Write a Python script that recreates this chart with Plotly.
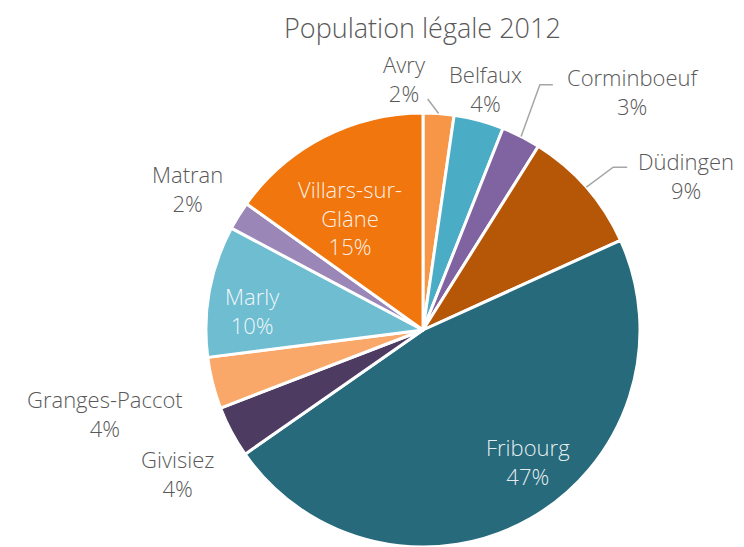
import math
import plotly.graph_objects as go

# ---- data ----
communes = ["Avry", "Belfaux", "Corminboeuf", "Düdingen", "Fribourg",
            "Givisiez", "Granges-Paccot", "Marly", "Matran", "Villars-sur-Glâne"]
population = [1850, 3000, 2350, 7500, 38000, 3100, 3100, 7900, 1700, 12200]
title_text = "Population légale 2012"

# ---- styles ----
colors = ["#F79646", "#4BACC6", "#8064A2", "#B65708", "#276A7C",
          "#4D3B62", "#F9A86A", "#6FBDD1", "#9B86B8", "#F1760E"]
label_text = {"Villars-sur-Glâne": "Villars-sur-<br>Glâne"}
inside = {"Fribourg", "Marly", "Villars-sur-Glâne"}
# label placement: (radius factor, angle nudge in degrees)
label_place = {
    "Avry": (1.16, -8.3), "Belfaux": (1.151, -0.5), "Corminboeuf": (1.463, 14.5),
    "Düdingen": (1.407, 10.7), "Fribourg": (0.774, -9.0), "Givisiez": (1.31, -2.4),
    "Granges-Paccot": (1.516, -0.6), "Marly": (0.793, -3.7), "Matran": (1.265, -0.7),
    "Villars-sur-Glâne": (0.62, -5.7),
}
# leader lines: label-relative elbow / end offsets in px
leaders = {
    "Avry": [(23, 20)],
    "Corminboeuf": [(-93, -7), (-80, -7)],
    "Düdingen": [(-73, -8), (-59, -8)],
}

W, H = 744, 547
OFF = 8  # page body margin
CX, CY, R = 423 - OFF, 330 - OFF, 217
FONT = "Open Sans"
GRAY = "#595959"

def px(x):
    return x / W

def py(y):
    return 1 - y / H

total = sum(population)
fig = go.Figure(go.Pie(
    labels=communes, values=population, sort=False, direction="clockwise",
    rotation=0, marker=dict(colors=colors, line=dict(color="white", width=3)),
    textinfo="none", hoverinfo="label+percent+value", showlegend=False,
    domain=dict(x=[(CX - R) / W, (CX + R) / W], y=[py(CY + R), py(CY - R)]),
))

annotations = []
shapes = []
cum = 0.0
for name, val in zip(communes, population):
    frac = val / total
    mid = (cum + frac / 2) * 360
    cum += frac
    rf, nudge = label_place[name]
    a = math.radians(mid + nudge)
    lx = CX + rf * R * math.sin(a)
    ly = CY - rf * R * math.cos(a)
    pct = round(frac * 100)
    txt = f"{label_text.get(name, name)}<br>{pct}%"
    col = "rgba(255,255,255,0.9)" if name in inside else GRAY
    annotations.append(dict(
        x=px(lx), y=py(ly), xref="paper", yref="paper", text=txt,
        showarrow=False, xanchor="center", yanchor="middle", borderpad=0,
        font=dict(family=FONT, size=22, color=col, weight=300),
    ))
    if name in leaders:
        am = math.radians(mid)
        pts = [(CX + R * math.sin(am), CY - R * math.cos(am))]
        for ox, oy in leaders[name]:
            pts.append((lx + ox, ly + oy))
        path = "M " + " L ".join(f"{px(x):.5f},{py(y):.5f}" for x, y in pts)
        shapes.append(dict(type="path", xref="paper", yref="paper", path=path,
                           line=dict(color="#A6A6A6", width=1.5)))

annotations.append(dict(
    x=px(423 - OFF), y=1, xref="paper", yref="paper", text=title_text,
    showarrow=False, xanchor="center", yanchor="top", borderpad=0,
    font=dict(family=FONT, size=27, color=GRAY, weight=300),
))

fig.update_layout(
    width=W, height=H, margin=dict(l=0, r=0, t=0, b=0),
    paper_bgcolor="white", plot_bgcolor="white",
    annotations=annotations, shapes=shapes,
)
fig.write_html("out.html")
